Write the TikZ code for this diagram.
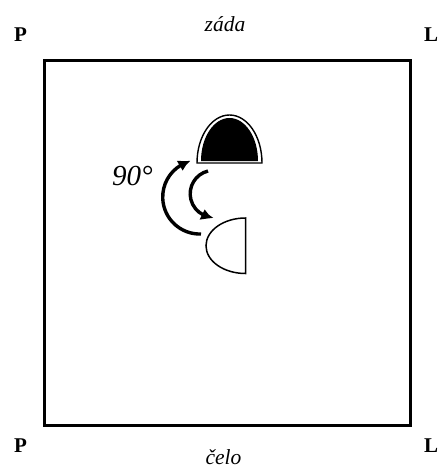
\documentclass[tikz,border=0pt]{standalone}
\usepackage{fontspec}
\setmainfont{Liberation Serif}
\usetikzlibrary{arrows.meta,bending}

\begin{document}
\begin{tikzpicture}[x=1pt,y=1pt,>={Latex[length=12pt,width=12pt,bend]},
  side/.style={font=\fontsize{21}{24}\selectfont\bfseries,inner sep=0pt,anchor=base west},
  wall/.style={font=\fontsize{21.5}{24}\selectfont\itshape,inner sep=0pt,anchor=base},
  turn/.style={line width=3.4pt,->}]
  \useasboundingbox (0,0) rectangle (439,-468);
  % room
  \draw[line width=3pt] (44.5,-60.5) rectangle (410.5,-425);
  \node[side] (pt) at (14,-42) {P};
  \node[side] (lt) at (424,-42) {L};
  \node[side] (pb) at (14,-452) {P};
  \node[side] (lb) at (424,-452) {L};
  \node[wall] (zada) at (225,-32) {záda};
  \node[wall] (celo) at (223.5,-464) {čelo};
  % head, back view and turned
  \draw[line width=1.4pt,fill=white] (262,-163) arc[start angle=0,end angle=180,x radius=32.5,y radius=48] -- cycle;
  \fill (258,-161) arc[start angle=0,end angle=180,x radius=28.5,y radius=43] -- cycle;
  \draw[line width=1.5pt,fill=white] (245.5,-218) arc[start angle=90,end angle=270,x radius=39.5,y radius=27.75] -- cycle;
  % rotation
  \coordinate (a1) at (201,-234);
  \coordinate (b1) at (208,-171);
  \draw[turn] (a1) arc[start angle=272,end angle=104,radius=37];
  \draw[turn] (b1) arc[start angle=104,end angle=270,radius=23.5];
  \node[font=\fontsize{29}{32}\selectfont\itshape,inner sep=0pt,anchor=base west] (ang) at (112,-185) {90°};
\end{tikzpicture}
\end{document}
